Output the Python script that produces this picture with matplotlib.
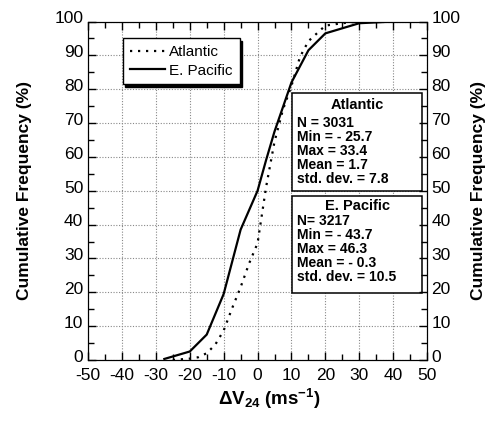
import numpy as np
import matplotlib
matplotlib.use("Agg")
import matplotlib.pyplot as plt
from matplotlib.patches import Rectangle
from matplotlib.ticker import MultipleLocator
from matplotlib.transforms import ScaledTranslation

plt.rcParams['font.family'] = ['Liberation Sans', 'DejaVu Sans']
plt.rcParams['mathtext.fontset'] = 'custom'
plt.rcParams['mathtext.rm'] = 'Liberation Sans'
plt.rcParams['mathtext.bf'] = 'Liberation Sans:bold'
plt.rcParams['axes.unicode_minus'] = False

# cumulative curves
atl_x = [-25, -20, -17.5, -15, -12.5, -10, -7.5, -5, -2.5, 0, 2.5, 5, 7.5, 10,
         12.5, 15, 17.5, 20, 25, 30, 50]
atl_y = [0, 0.4, 0.8, 2, 4.5, 8.7, 15.3, 21.5, 28.5, 34.5, 51, 64.5, 74, 81,
         89.5, 94.2, 96.5, 98.8, 99.5, 100, 100]
pac_x = [-27.5, -20, -15, -10, -5, 0, 2.5, 5, 10, 15, 20, 30, 40, 50]
pac_y = [0.3, 2.5, 7.5, 19.5, 38.5, 50, 59, 67.5, 82, 91.5, 96.5, 99.5, 100, 100]

atl_stats = ["N = 3031", "Min = - 25.7", "Max = 33.4", "Mean = 1.7",
             "std. dev. = 7.8"]
pac_stats = ["N= 3217", "Min = - 43.7", "Max = 46.3", "Mean = - 0.3",
             "std. dev. = 10.5"]

fig = plt.figure(figsize=(4.92, 4.22), dpi=100)
ax = fig.add_axes([0.179, 0.147, 0.689, 0.802])

ax.plot(atl_x, atl_y, color='k', lw=1.6, linestyle=(0, (1, 2.6)),
        label='Atlantic', zorder=3)
ax.plot(pac_x, pac_y, color='k', lw=1.6, label='E. Pacific', zorder=3)

ax.set_xlim(-50, 50)
ax.set_ylim(0, 100)
ax.xaxis.set_major_locator(MultipleLocator(10))
ax.xaxis.set_minor_locator(MultipleLocator(5))
ax.yaxis.set_major_locator(MultipleLocator(10))
ax.yaxis.set_minor_locator(MultipleLocator(5))
ax.tick_params(which='both', direction='in', top=True, right=False,
               labelsize=12.5, width=1)
ax.tick_params(which='major', length=6)
ax.tick_params(axis='x', which='major', pad=6)
ax.tick_params(which='minor', length=4)
ax.grid(True, which='major', color='#888888', linestyle=(0, (1, 1.5)), lw=0.8)
ax.set_axisbelow(True)

ax2 = ax.twinx()
ax2.set_ylim(0, 100)
ax2.yaxis.set_major_locator(MultipleLocator(10))
ax2.yaxis.set_minor_locator(MultipleLocator(5))
ax2.tick_params(which='both', direction='in', labelsize=12.5, width=1)
ax2.tick_params(which='major', length=6, pad=3)
ax2.tick_params(which='minor', length=4)

# y tick labels sit a little above their ticks in the original
shift = ScaledTranslation(0, 3 / 72, fig.dpi_scale_trans)
for lab in ax.get_yticklabels() + ax2.get_yticklabels():
    lab.set_transform(lab.get_transform() + shift)

ax.set_ylabel('Cumulative Frequency (%)', fontsize=12.5, fontweight='bold',
              labelpad=16)
ax2.set_ylabel('Cumulative Frequency (%)', fontsize=12.5, fontweight='bold',
               rotation=90, labelpad=8)
ax.set_xlabel(r'$\mathbf{\Delta V_{24}}$ $\mathbf{(ms^{-1})}$', fontsize=13.5)
ax.xaxis.set_label_coords(0.535, -0.08)

leg = ax.legend(loc='upper left', bbox_to_anchor=(0.102, 0.951), borderaxespad=0,
                fontsize=11, fancybox=False, edgecolor='k', framealpha=1,
                handlelength=2.3, handletextpad=0.3, borderpad=0.45,
                labelspacing=0.3,
                shadow={'color': 'k', 'alpha': 1})
leg.get_frame().set_linewidth(1)
leg.set_zorder(5)

# stats boxes
for y0, h, title, lines, ty, ly in [
        (50, 29, "Atlantic", atl_stats, 75.4, 70.0),
        (19.8, 28.7, "E. Pacific", pac_stats, 45.4, 41.1)]:
    ax.add_patch(Rectangle((10.2, y0), 38.3, h, facecolor='white',
                           edgecolor='k', lw=1.1, zorder=4))
    ax.text(29.4, ty, title, ha='center', va='center', fontsize=10.5,
            fontweight='bold', zorder=5)
    for i, s in enumerate(lines):
        ax.text(11.6, ly - i * 4.14, s, ha='left', va='center', fontsize=10,
                fontweight='bold', zorder=5)

fig.savefig('out.png', dpi=100)
